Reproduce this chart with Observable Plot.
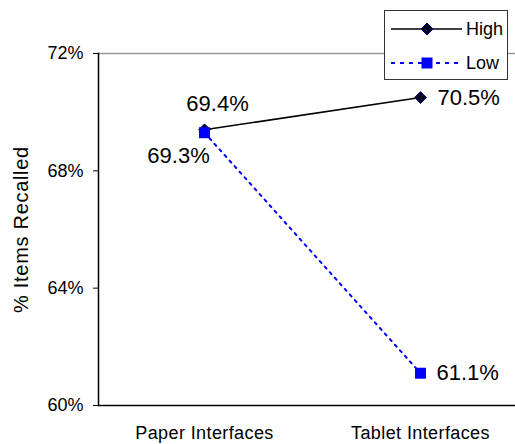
<!DOCTYPE html>
<html>
<head>
<meta charset="utf-8">
<script src="https://cdn.jsdelivr.net/npm/d3@7"></script>
<script src="https://cdn.jsdelivr.net/npm/@observablehq/plot@0.6"></script>
<style>
  html, body { margin: 0; padding: 0; background: #fff; }
  #wrap { position: relative; width: 515px; height: 444px; font-family: "Liberation Sans", Arial, sans-serif; }
  #legend { position: absolute; left: 384px; top: 10px; width: 124px; height: 70px; border: 1px solid #333; background: #fff; box-sizing: border-box; }
  #legend svg { position: absolute; left: 0; top: 0; }
  #wrap g[aria-label="y-axis label"] text { font-size: 20px; letter-spacing: 0.7px; }
  #wrap g[aria-label="x-axis tick label"] text { letter-spacing: 0.4px; }
</style>
</head>
<body>
<div id="wrap"></div>
<script>
const categories = ["Paper Interfaces", "Tablet Interfaces"];
const seriesNames = ["High", "Low"];
const highValues = [69.4, 70.5];
const lowValues = [69.3, 61.1];
const yTicks = [60, 64, 68, 72];
const yLabel = "% Items Recalled";

const rows = [];
categories.forEach((c, i) => {
  rows.push({cat: c, series: seriesNames[0], value: highValues[i]});
  rows.push({cat: c, series: seriesNames[1], value: lowValues[i]});
});
const high = rows.filter(d => d.series === "High");
const low = rows.filter(d => d.series === "Low");
const fmt = v => v.toFixed(1) + "%";
const font = "Liberation Sans, Arial, sans-serif";

const chart = Plot.plot({
  width: 515,
  height: 444,
  marginTop: 53,
  marginBottom: 39,
  marginLeft: 98,
  marginRight: 0,
  style: {fontFamily: font, fontSize: "18px", background: "#fff", color: "#000"},
  x: {type: "point", domain: categories, range: [204, 420], padding: 0},
  y: {domain: [60, 72]},
  marks: [
    Plot.ruleY([72], {stroke: "#999", strokeWidth: 1.5}),
    Plot.ruleY([60], {stroke: "#000", strokeWidth: 1.5}),
    Plot.frame({anchor: "left", stroke: "#000", strokeWidth: 1.5}),
    Plot.axisY({ticks: yTicks, tickFormat: d => d + "%", tickSize: 5, tickPadding: 10, fontSize: 18,
      label: yLabel, labelAnchor: "center", labelOffset: 85, labelArrow: false}),
    Plot.axisX({tickSize: 0, tickPadding: 21, fontSize: 18, label: null}),
    Plot.line(high, {x: "cat", y: "value", stroke: "#000", strokeWidth: 1.5}),
    Plot.line(low, {x: "cat", y: "value", stroke: "#0000ff", strokeWidth: 2, strokeDasharray: "2.5,5"}),
    Plot.dot(high, {x: "cat", y: "value", symbol: "diamond2", r: 5.3, fill: "#000020", stroke: "#000080", strokeWidth: 1}),
    Plot.dot(low, {x: "cat", y: "value", symbol: "square", r: 6.2, fill: "#0000ff"}),
    Plot.text([high[0]], {x: "cat", y: "value", text: d => fmt(d.value), fontSize: 22, textAnchor: "middle", dx: 13, dy: -26}),
    Plot.text([low[0]], {x: "cat", y: "value", text: d => fmt(d.value), fontSize: 22, textAnchor: "middle", dx: -26, dy: 23}),
    Plot.text([high[1]], {x: "cat", y: "value", text: d => fmt(d.value), fontSize: 22, textAnchor: "start", dx: 17}),
    Plot.text([low[1]], {x: "cat", y: "value", text: d => fmt(d.value), fontSize: 22, textAnchor: "start", dx: 16})
  ]
});

const wrap = document.getElementById("wrap");
wrap.appendChild(chart);

// Legend overlay
const legend = document.createElement("div");
legend.id = "legend";
const ns = "http://www.w3.org/2000/svg";
const svg = document.createElementNS(ns, "svg");
svg.setAttribute("width", 124);
svg.setAttribute("height", 70);
const entries = [
  {name: seriesNames[0], stroke: "#000", dash: null, marker: "diamond"},
  {name: seriesNames[1], stroke: "#0000ff", dash: "4,5", marker: "square"}
];
entries.forEach((e, i) => {
  const cy = 18 + i * 34;
  const line = document.createElementNS(ns, "line");
  line.setAttribute("x1", 6); line.setAttribute("x2", 77);
  line.setAttribute("y1", cy); line.setAttribute("y2", cy);
  line.setAttribute("stroke", e.stroke);
  line.setAttribute("stroke-width", e.dash ? 2 : 1.5);
  if (e.dash) line.setAttribute("stroke-dasharray", e.dash);
  svg.appendChild(line);
  if (e.marker === "diamond") {
    const p = document.createElementNS(ns, "path");
    const cx = 42, r = 6;
    p.setAttribute("d", `M${cx},${cy - r}L${cx + r},${cy}L${cx},${cy + r}L${cx - r},${cy}Z`);
    p.setAttribute("fill", "#000020"); p.setAttribute("stroke", "#000080");
    svg.appendChild(p);
  } else {
    const s = document.createElementNS(ns, "rect");
    s.setAttribute("x", 42 - 5.5); s.setAttribute("y", cy - 5.5);
    s.setAttribute("width", 11); s.setAttribute("height", 11);
    s.setAttribute("fill", "#0000ff");
    svg.appendChild(s);
  }
  const t = document.createElementNS(ns, "text");
  t.setAttribute("x", 81); t.setAttribute("y", cy);
  t.setAttribute("dy", "0.35em");
  t.setAttribute("font-size", 18);
  t.setAttribute("font-family", font);
  t.textContent = e.name;
  svg.appendChild(t);
});
legend.appendChild(svg);
wrap.appendChild(legend);
</script>
</body>
</html>
